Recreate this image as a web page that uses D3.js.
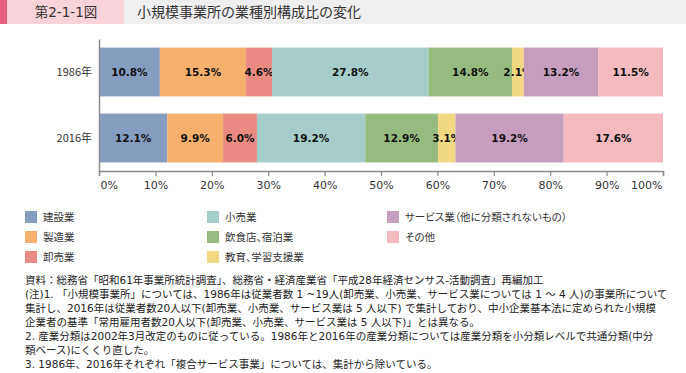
<!DOCTYPE html>
<html>
<head>
<meta charset="utf-8">
<script src="https://cdn.jsdelivr.net/npm/d3@7"></script>
<style>
  body { margin: 0; background: #fff; }
  svg { display: block; font-family: "Noto Sans CJK JP", sans-serif; }
  .jp { font-feature-settings: "palt"; }
</style>
</head>
<body>
<svg id="chart" width="686" height="373"></svg>
<script>
// données
var years = ["1986年", "2016年"];
var industries = ["建設業", "製造業", "卸売業", "小売業", "飲食店、宿泊業", "教育、学習支援業", "サービス業（他に分類されないもの）", "その他"];
var share1986 = [10.8, 15.3, 4.6, 27.8, 14.8, 2.1, 13.2, 11.5];
var share2016 = [12.1, 9.9, 6.0, 19.2, 12.9, 3.1, 19.2, 17.6];
var xTicks = [0, 10, 20, 30, 40, 50, 60, 70, 80, 90, 100];
var notes = [
  "資料：総務省「昭和61年事業所統計調査」、総務省・経済産業省「平成28年経済センサス-活動調査」再編加工",
  "(注)1. 「小規模事業所」については、1986年は従業者数 1 ~19人(卸売業、小売業、サービス業については 1 ～ 4 人)の事業所について",
  "集計し、2016年は従業者数20人以下(卸売業、小売業、サービス業は 5 人以下) で集計しており、中小企業基本法に定められた小規模",
  "企業者の基準「常用雇用者数20人以下(卸売業、小売業、サービス業は 5 人以下)」とは異なる。",
  "2. 産業分類は2002年3月改定のものに従っている。1986年と2016年の産業分類については産業分類を小分類レベルで共通分類(中分",
  "類ベース)にくくり直した。",
  "3. 1986年、2016年それぞれ「複合サービス事業」については、集計から除いている。"
];

var colors = ["#879dc0", "#f5b06d", "#e98b83", "#a6cdc9", "#97bb7f", "#f3d883", "#c59ebe", "#f5b9c0"];

var svg = d3.select("#chart");

/* bandeau titre */
svg.append("rect").attr("x", 0).attr("y", 0).attr("width", 686).attr("height", 24).attr("fill", "#efefef");
svg.append("rect").attr("x", 0).attr("y", 0).attr("width", 124).attr("height", 24).attr("fill", "#f9d3d9");
svg.append("rect").attr("x", 0).attr("y", 0).attr("width", 7).attr("height", 24).attr("fill", "#e8607f");
svg.append("text").attr("x", 66).attr("y", 12).attr("dy", "0.35em")
  .attr("text-anchor", "middle").attr("font-size", 13.5).attr("fill", "#333")
  .attr("font-family", "DejaVu Sans, Noto Sans CJK JP, sans-serif")
  .text("第2-1-1図");
svg.append("text").attr("x", 137).attr("y", 12).attr("dy", "0.35em")
  .attr("font-size", 14).attr("fill", "#333")
  .text("小規模事業所の業種別構成比の変化");

/* données empilées */
var rows = years.map(function (y, j) {
  var r = { year: y };
  var src = j == 0 ? share1986 : share2016;
  industries.forEach(function (k, i) { r[k] = src[i]; });
  return r;
});
var series = d3.stack().keys(industries).offset(d3.stackOffsetExpand)(rows);

var x = d3.scaleLinear().domain([0, 100]).range([99, 663]);
var y = d3.scaleBand().domain(years).range([39, 171]).paddingInner(0.26).paddingOuter(0.13);

var layers = svg.append("g").selectAll("g")
  .data(series)
  .enter().append("g")
  .attr("fill", function (d, i) { return colors[i]; });

layers.selectAll("rect")
  .data(function (d) { return d; })
  .enter().append("rect")
  .attr("x", function (d) { return x(d[0] * 100); })
  .attr("y", function (d) { return y(d.data.year); })
  .attr("width", function (d) { return x(d[1] * 100) - x(d[0] * 100); })
  .attr("height", y.bandwidth());

layers.each(function (s, i) {
  d3.select(this).selectAll("text")
    .data(s)
    .enter().append("text")
    .attr("x", function (d) { return (x(d[0] * 100) + x(d[1] * 100)) / 2; })
    .attr("y", function (d) { return y(d.data.year) + y.bandwidth() / 2; })
    .attr("dy", "0.35em")
    .attr("text-anchor", "middle")
    .attr("font-family", "DejaVu Sans, sans-serif")
    .attr("font-weight", "bold")
    .attr("font-size", 10.5)
    .attr("fill", "#111")
    .text(function (d) { return d.data[s.key].toFixed(1) + "%"; });
});

/* axes */
var xAxis = svg.append("g")
  .attr("transform", "translate(0,171)")
  .call(d3.axisBottom(x).tickValues(xTicks).tickSize(5).tickSizeOuter(5)
    .tickFormat(function (d) { return d + "%"; }));
xAxis.select(".domain").attr("stroke", "#8c8c8c").attr("stroke-width", 1.5);
xAxis.selectAll(".tick line").attr("stroke", "#8c8c8c").attr("stroke-width", 1.2);
xAxis.selectAll(".tick text")
  .attr("font-family", "DejaVu Sans, sans-serif")
  .attr("font-size", 11).attr("fill", "#333").attr("y", 10)
  .attr("text-anchor", function (d) { return d == 0 ? "start" : (d == 100 ? "end" : "middle"); })
  .attr("dx", function (d) { return d == 0 ? 1 : (d == 100 ? -1 : 0); });

var yAxis = svg.append("g")
  .attr("transform", "translate(99,0)")
  .call(d3.axisLeft(y).tickSize(0).tickPadding(7));
yAxis.select(".domain").attr("stroke", "#8c8c8c").attr("stroke-width", 1.5);
yAxis.selectAll(".tick text")
  .attr("font-family", "Noto Sans CJK JP, sans-serif")
  .attr("font-size", 11).attr("fill", "#333");

/* légende */
var leg = svg.append("g").selectAll("g")
  .data(industries)
  .enter().append("g")
  .attr("transform", function (d, i) {
    var colX = [25, 207, 387];
    return "translate(" + colX[Math.floor(i / 3)] + "," + (217 + 20 * (i % 3)) + ")";
  });
leg.append("rect")
  .attr("x", 0).attr("y", -6).attr("width", 12).attr("height", 12)
  .attr("fill", function (d, i) { return colors[i]; });
leg.append("text")
  .attr("class", "jp")
  .attr("x", 18).attr("y", 0).attr("dy", "0.35em")
  .attr("font-size", 10.5).attr("fill", "#333")
  .text(function (d) { return d; });

/* notes : un seul bloc de texte, une ligne par tspan */
svg.append("text")
  .attr("font-family", "DejaVu Sans, Noto Sans CJK JP, sans-serif")
  .attr("font-size", 10.5)
  .attr("fill", "#222")
  .attr("y", 284)
  .selectAll("tspan")
  .data(notes)
  .enter().append("tspan")
  .attr("x", 25)
  .attr("dy", function (d, i) { return i == 0 ? 0 : 14; })
  .text(function (d) { return d; });
</script>
</body>
</html>
